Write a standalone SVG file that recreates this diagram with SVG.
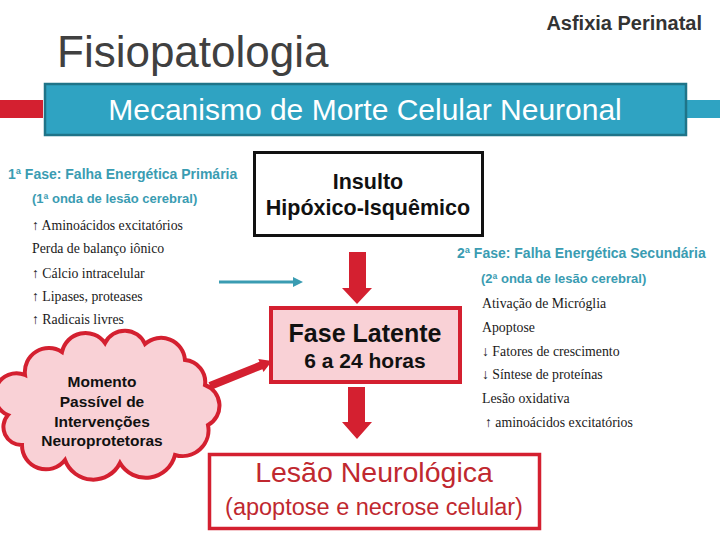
<svg xmlns="http://www.w3.org/2000/svg" width="720" height="540" viewBox="0 0 720 540">
<style>
.sans{font-family:"Liberation Sans",Arial,sans-serif}
.serif{font-family:"Liberation Serif","Times New Roman",serif;font-size:13.8px;fill:#1a1a1a}
.teal{fill:#3a9cb2;font-weight:bold;font-family:"Liberation Sans",Arial,sans-serif}
.redarrow{fill:#d42030}
.pink{fill:#f9d1d6;stroke:#d42030;stroke-width:4}
</style>
<rect width="720" height="540" fill="#ffffff"/>
<g id="header">
  <text class="sans" x="702" y="30" text-anchor="end" font-size="20" font-weight="bold" fill="#333333">Asfixia Perinatal</text>
  <text class="sans" x="57" y="67" font-size="44" fill="#404040">Fisiopatologia</text>
  <rect x="0" y="100" width="43" height="18" fill="#d42030"/>
  <rect x="686" y="100" width="34" height="18" fill="#2fa3c2"/>
  <rect x="45" y="84" width="641" height="51" fill="#2fa3c2" stroke="#1f7488" stroke-width="2.5"/>
  <text class="sans" x="365" y="120" text-anchor="middle" font-size="30" fill="#ffffff">Mecanismo de Morte Celular Neuronal</text>
</g>
<g id="insulto">
  <rect x="254.5" y="152.5" width="228" height="83" fill="#ffffff" stroke="#111111" stroke-width="3"/>
  <text class="sans" x="368" y="189" text-anchor="middle" font-size="21.5" font-weight="bold" fill="#111111">Insulto</text>
  <text class="sans" x="368" y="215" text-anchor="middle" font-size="21.5" font-weight="bold" fill="#111111">Hipóxico-Isquêmico</text>
</g>
<g id="fase1">
  <text class="teal" x="8" y="179" font-size="14">1ª Fase: Falha Energética Primária</text>
  <text class="teal" x="32" y="203" font-size="13">(1ª onda de lesão cerebral)</text>
  <text class="serif" x="32" y="230">↑ Aminoácidos excitatórios</text>
  <text class="serif" x="32" y="253">Perda de balanço iônico</text>
  <text class="serif" x="32" y="278">↑ Cálcio intracelular</text>
  <text class="serif" x="32" y="301">↑ Lipases, proteases</text>
  <text class="serif" x="32" y="324">↑ Radicais livres</text>
</g>
<g id="fase2">
  <text class="teal" x="457" y="258" font-size="14">2ª Fase: Falha Energética Secundária</text>
  <text class="teal" x="481" y="283" font-size="13">(2ª onda de lesão cerebral)</text>
  <text class="serif" x="482" y="308">Ativação de Micróglia</text>
  <text class="serif" x="482" y="332">Apoptose</text>
  <text class="serif" x="482" y="356">↓ Fatores de crescimento</text>
  <text class="serif" x="482" y="379">↓ Síntese de proteínas</text>
  <text class="serif" x="482" y="403">Lesão oxidativa</text>
  <text class="serif" x="485" y="427">↑ aminoácidos excitatórios</text>
</g>
<g id="fase-latente">
  <rect x="271" y="308" width="189" height="74" class="pink"/>
  <text class="sans" x="365" y="342" text-anchor="middle" font-size="25" font-weight="bold" fill="#111111">Fase Latente</text>
  <text class="sans" x="365" y="368" text-anchor="middle" font-size="21" font-weight="bold" fill="#111111">6 a 24 horas</text>
</g>
<g id="momento">
  <path class="pink" d="M 8 415 A 20 20 0 0 1 25 375 A 24 24 0 0 1 62 352 A 24 24 0 0 1 105 343 A 22 22 0 0 1 145 344 A 24 24 0 0 1 185 360 A 22 22 0 0 1 205 385 A 22 22 0 0 1 208 425 A 26 26 0 0 1 175 455 A 30 30 0 0 1 120 463 A 30 30 0 0 1 65 460 A 24 24 0 0 1 22 445 A 18 18 0 0 1 8 415 Z"/>
  <g class="sans" font-size="15.5" font-weight="bold" fill="#111111" text-anchor="middle">
    <text x="102" y="387">Momento</text>
    <text x="102" y="407">Passível de</text>
    <text x="102" y="427">Intervenções</text>
    <text x="102" y="446">Neuroprotetoras</text>
  </g>
</g>
<g id="lesao">
  <rect x="209.5" y="454.5" width="330" height="74" fill="#ffffff" stroke="#d42030" stroke-width="3.5"/>
  <text class="sans" x="374" y="482" text-anchor="middle" font-size="28.5" fill="#c0282f">Lesão Neurológica</text>
  <text class="sans" x="374" y="515" text-anchor="middle" font-size="23.5" fill="#c0282f">(apoptose e necrose celular)</text>
</g>
<g id="connectors">
  <line x1="219" y1="282" x2="296" y2="282" stroke="#3a9cb2" stroke-width="3"/>
  <polygon points="293,277 303,282 293,287" fill="#3a9cb2"/>
  <polygon class="redarrow" points="349,252 366,252 366,288 372,288 357,304 342,288 349,288"/>
  <polygon class="redarrow" points="348,387 365,387 365,422 372,422 357,439 342,422 348,422"/>
  <polygon class="redarrow" points="211.5,389.7 262.4,369.2 263.5,372 272,361 258.3,359 259.4,361.8 208.5,382.3"/>
</g>
</svg>
